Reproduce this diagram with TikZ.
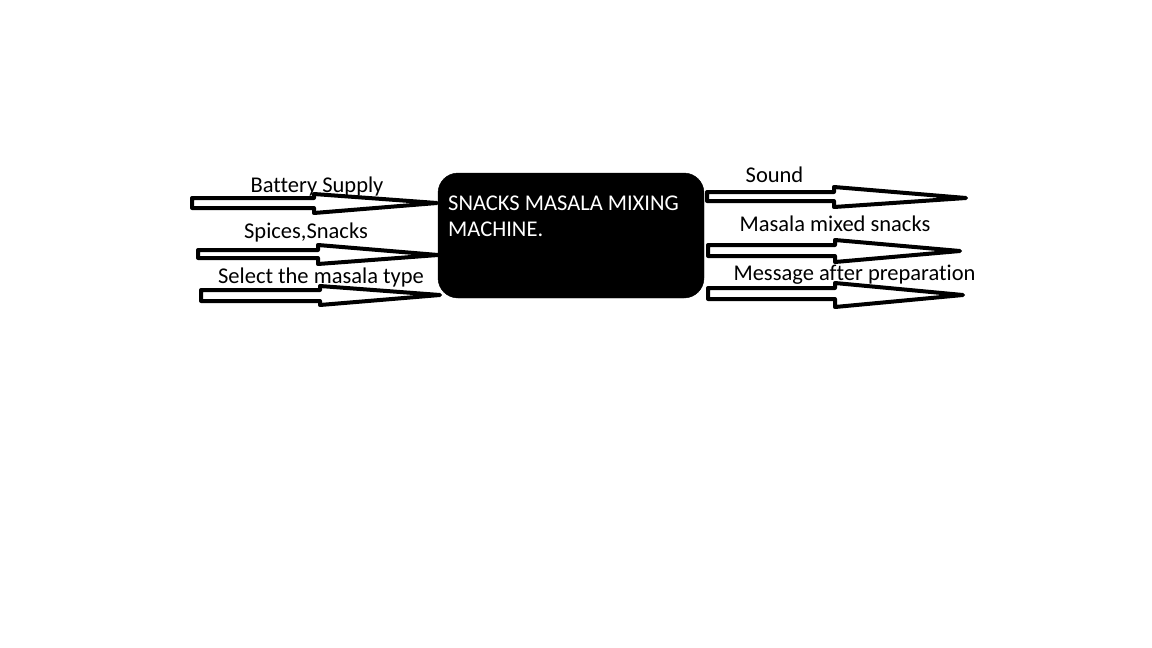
\documentclass[tikz,border=0pt]{standalone}
\usepackage{fontspec}
\setmainfont{Carlito}[Ligatures=NoCommon]
\begin{document}
\begin{tikzpicture}[x=1pt,y=-1pt,
  blockarrow/.style={draw=black,fill=white,line width=4pt,line join=round},
  lbl/.style={font=\fontsize{22.5}{26}\selectfont,inner sep=0pt,anchor=base}]
\useasboundingbox (0,0) rectangle (1152,648);
% central box
\node[draw=black,fill=black,rounded corners=20pt,minimum width=266pt,minimum height=125pt,inner sep=0pt] (box) at (571,235.5) {};
\node[font=\fontsize{22.5}{26}\selectfont,text=white,align=left,anchor=base west,inner sep=0pt] (boxtext) at (448,236)
  {SNACKS MASALA MIXING\\MACHINE.};
% input arrows
\draw[blockarrow] (192,198) -- (314,198) -- (314,194) -- (437,203) -- (314,213) -- (314,208) -- (192,208) -- cycle;
\draw[blockarrow] (198,250) -- (318,250) -- (318,245) -- (438,255) -- (318,264) -- (318,258) -- (198,258) -- cycle;
\draw[blockarrow] (201,290) -- (320,290) -- (320,286) -- (440,295) -- (320,305) -- (320,301) -- (201,301) -- cycle;
% output arrows
\draw[blockarrow] (707,192) -- (834,192) -- (834,187) -- (966,198) -- (834,207) -- (834,201) -- (707,201) -- cycle;
\draw[blockarrow] (708,245) -- (835,245) -- (835,240) -- (960,251) -- (835,262) -- (835,256) -- (708,256) -- cycle;
\draw[blockarrow] (708,288) -- (835,288) -- (835,283) -- (963,295) -- (835,307) -- (835,299) -- (708,299) -- cycle;
% labels
\node[lbl] (l1) at (317,192) {Battery Supply};
\node[lbl] (l2) at (306,238) {Spices,Snacks};
\node[lbl] (l3) at (321,283) {Select the masala type};
\node[lbl] (r1) at (774.5,182) {Sound};
\node[lbl] (r2) at (835,231) {Masala mixed snacks};
\node[lbl] (r3) at (854.5,280) {Message after preparation};
\end{tikzpicture}
\end{document}
